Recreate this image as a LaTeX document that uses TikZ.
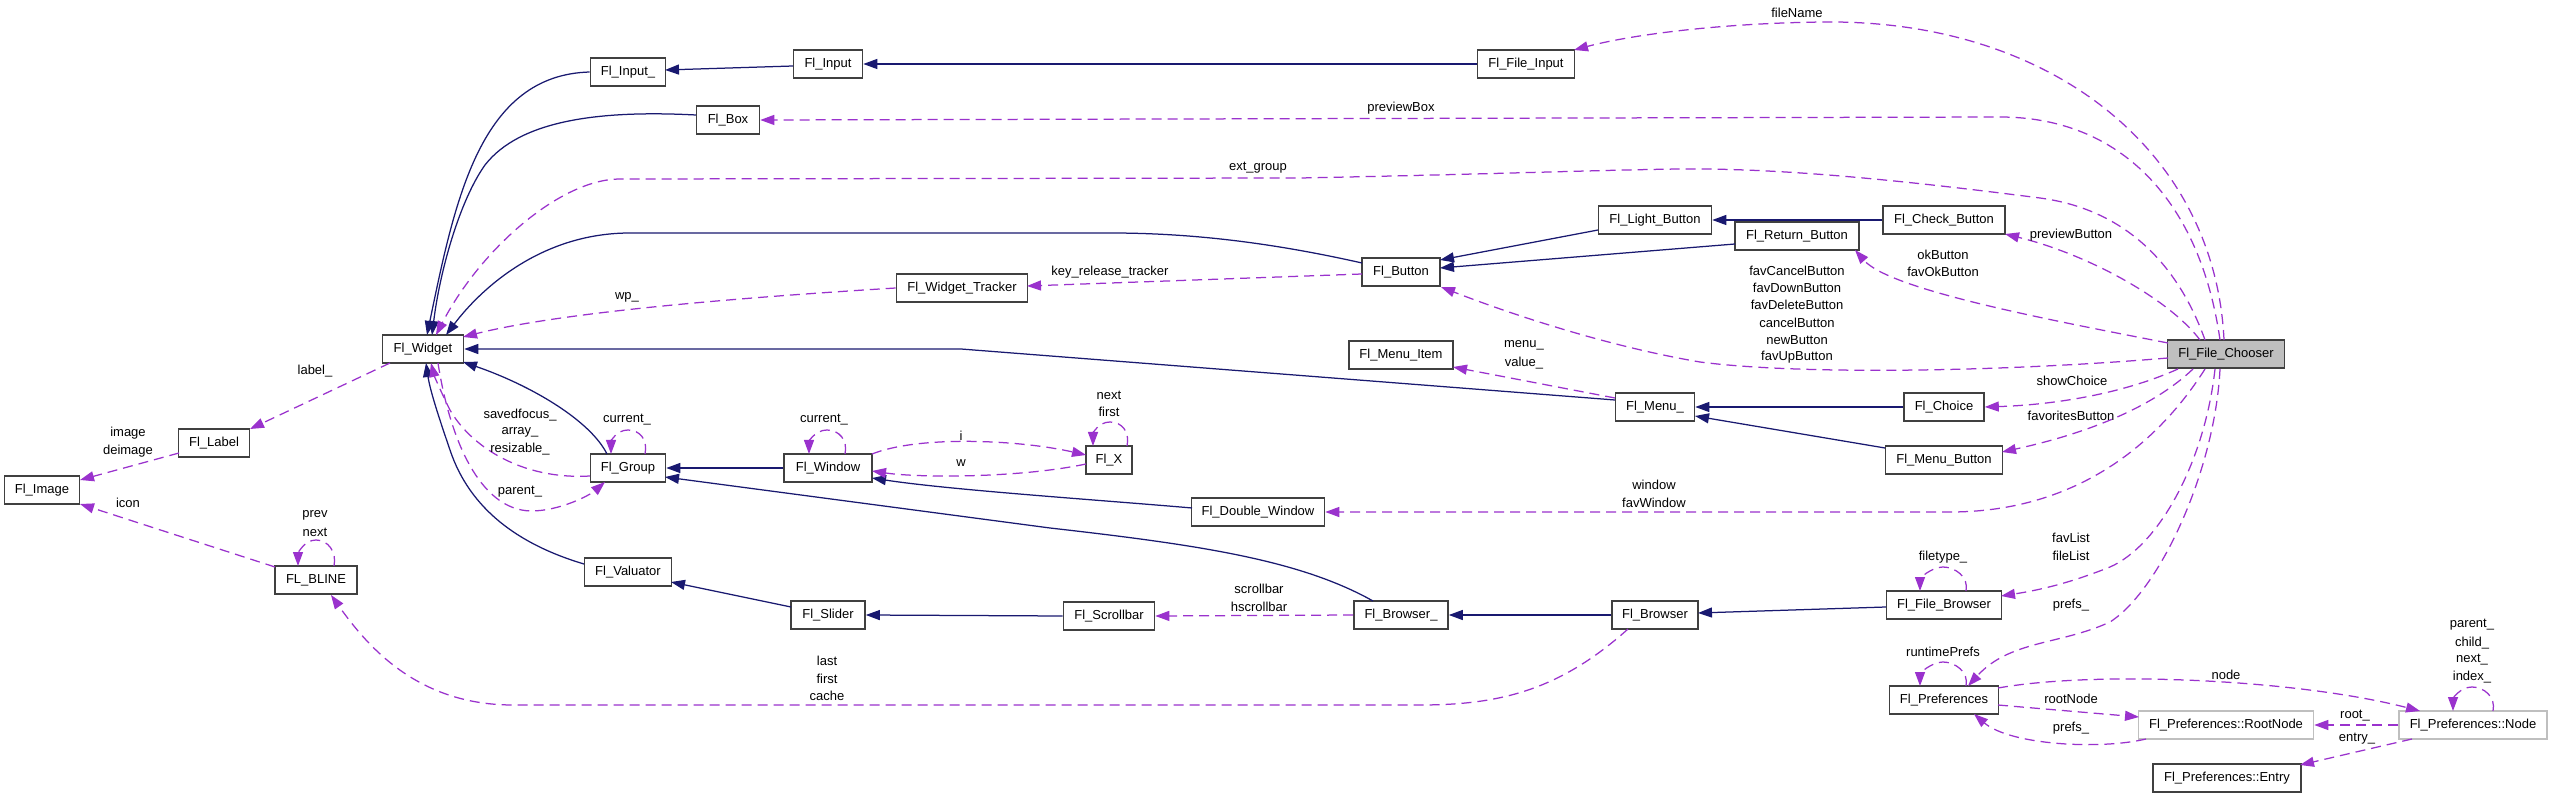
\documentclass[tikz,border=0pt]{standalone}
\usepackage{fontspec}
\setmainfont{Liberation Sans}
\usetikzlibrary{arrows.meta}
\definecolor{navy}{RGB}{25,25,112}
\definecolor{dpurple}{RGB}{154,50,205}
\definecolor{boxline}{RGB}{64,64,64}
\definecolor{lightline}{RGB}{191,191,191}
\definecolor{chooserfill}{RGB}{191,191,191}
\begin{document}
\begin{tikzpicture}[x=1pt,y=-1pt,
 cls/.style={draw=boxline,line width=1.6pt,fill=white,minimum height=28pt,inner xsep=2pt,inner ysep=0pt,font=\fontsize{13}{15}\selectfont},
 lightcls/.style={cls,draw=lightline},
 inh/.style={draw=navy,line width=1.25pt,-{Triangle[length=14pt,width=10pt]}},
 use/.style={draw=dpurple,line width=1.25pt,dash pattern=on 10pt off 6pt,-{Triangle[length=14pt,width=10pt]}},
 lbl/.style={font=\fontsize{13}{15}\selectfont,inner sep=0pt}]
\fill[white] (0,0) rectangle (2552,799);
\useasboundingbox (0,0) rectangle (2552,799);

% nodes
\node[cls,minimum width=75] (image) at (42,490) {Fl\_Image};
\node[cls,minimum width=71] (label) at (214,443) {Fl\_Label};
\node[cls,minimum width=82] (bline) at (316,580) {FL\_BLINE};
\node[cls,minimum width=81] (widget) at (423,349) {Fl\_Widget};
\node[cls,minimum width=75] (inputu) at (628,72) {Fl\_Input\_};
\node[cls,minimum width=63] (box) at (728,120) {Fl\_Box};
\node[cls,minimum width=75] (group) at (628,468) {Fl\_Group};
\node[cls,minimum width=87] (valuator) at (628,572) {Fl\_Valuator};
\node[cls,minimum width=69] (input) at (828,64) {Fl\_Input};
\node[cls,minimum width=88] (window) at (828,468) {Fl\_Window};
\node[cls,minimum width=74] (slider) at (828,615) {Fl\_Slider};
\node[cls,minimum width=131] (tracker) at (962,288) {Fl\_Widget\_Tracker};
\node[cls,minimum width=46] (flx) at (1109,460) {Fl\_X};
\node[cls,minimum width=91] (scrollbar) at (1109,616) {Fl\_Scrollbar};
\node[cls,minimum width=133] (dwindow) at (1258,512) {Fl\_Double\_Window};
\node[cls,minimum width=78] (button) at (1401,272) {Fl\_Button};
\node[cls,minimum width=104] (menuitem) at (1401,355) {Fl\_Menu\_Item};
\node[cls,minimum width=94] (browseru) at (1401,615) {Fl\_Browser\_};
\node[cls,minimum width=97] (fileinput) at (1526,64) {Fl\_File\_Input};
\node[cls,minimum width=113] (light) at (1655,220) {Fl\_Light\_Button};
\node[cls,minimum width=79] (menuu) at (1655,407) {Fl\_Menu\_};
\node[cls,minimum width=86] (browser) at (1655,615) {Fl\_Browser};
\node[cls,minimum width=124] (retbtn) at (1797,236) {Fl\_Return\_Button};
\node[cls,minimum width=122] (check) at (1944,220) {Fl\_Check\_Button};
\node[cls,minimum width=80] (choice) at (1944,407) {Fl\_Choice};
\node[cls,minimum width=117] (menubutton) at (1944,460) {Fl\_Menu\_Button};
\node[cls,minimum width=115] (filebrowser) at (1944,605) {Fl\_File\_Browser};
\node[cls,minimum width=109] (prefs) at (1944,700) {Fl\_Preferences};
\node[cls,minimum width=117,fill=chooserfill] (chooser) at (2226,354) {Fl\_File\_Chooser};
\node[lightcls,minimum width=175] (rootnode) at (2226,725) {Fl\_Preferences::RootNode};
\node[cls,minimum width=148] (entry) at (2227,778) {Fl\_Preferences::Entry};
\node[lightcls,minimum width=148] (pnode) at (2473,725) {Fl\_Preferences::Node};

% inheritance
\draw[inh] (inputu.west) .. controls (480,75) and (455,200) .. ([shift={(4,-14)}]widget.center);
\draw[inh] ([shift={(-32,-5)}]box.center) .. controls (600,110) and (520,120) .. (485,165) .. controls (460,200) and (440,270) .. ([shift={(9,-14)}]widget.center);
\draw[inh] ([shift={(-39,-9)}]button.center) .. controls (1260,240) and (1180,233) .. (1110,233) -- (630,233) .. controls (540,233) and (480,290) .. ([shift={(23,-14)}]widget.center);
\draw[inh] ([shift={(-40,-7)}]menuu.center) -- (961,349) -- (widget.east);
\draw[inh] ([shift={(-21,-14)}]group.center) .. controls (590,420) and (530,385) .. ([shift={(40,13)}]widget.center);
\draw[inh] ([shift={(-44,-8)}]valuator.center) .. controls (520,545) and (470,510) .. (450,450) .. controls (438,415) and (430,390) .. ([shift={(3,14)}]widget.center);
\draw[inh] ([shift={(-35,2)}]input.center) -- ([shift={(37,-2)}]inputu.center);
\draw[inh] (fileinput.west) -- (input.east);
\draw[inh] ([shift={(-57,10)}]light.center) -- ([shift={(39,-12)}]button.center);
\draw[inh] ([shift={(-62,8)}]retbtn.center) -- ([shift={(39,-4)}]button.center);
\draw[inh] (check.west) -- (light.east);
\draw[inh] (window.west) -- (group.east);
\draw[inh] ([shift={(-66,-4)}]dwindow.center) .. controls (1100,500) and (950,490) .. ([shift={(44,10)}]window.center);
\draw[inh] ([shift={(-28,-14)}]browseru.center) .. controls (1300,560) and (1200,545) .. (1050,528) -- ([shift={(37,9)}]group.center);
\draw[inh] ([shift={(-37,-8)}]slider.center) -- ([shift={(43,10)}]valuator.center);
\draw[inh] (scrollbar.west) -- (slider.east);
\draw[inh] (browser.west) -- (browseru.east);
\draw[inh] (choice.west) -- (menuu.east);
\draw[inh] ([shift={(-59,-12)}]menubutton.center) -- ([shift={(40,9)}]menuu.center);
\draw[inh] ([shift={(-58,2)}]filebrowser.center) -- ([shift={(43,-2)}]browser.center);

% usage
\draw[use] ([shift={(-2,-14)}]chooser.center) .. controls (2215,150) and (2050,20) .. (1825,22) .. controls (1720,23) and (1630,35) .. ([shift={(48,-14)}]fileinput.center);
\node[lbl] (l01) at (1797,13) {fileName};
\draw[use] ([shift={(-6,-14)}]chooser.center) .. controls (2200,200) and (2120,117) .. (2000,117) -- (box.east);
\node[lbl] (l02) at (1401,108) {previewBox};
\draw[use] ([shift={(-21,-14)}]chooser.center) .. controls (2180,270) and (2130,210) .. (2040,198) .. controls (1900,180) and (1780,168) .. (1680,169) .. controls (1600,170) and (1500,174) .. (1300,178) -- (620,179) .. controls (560,179) and (480,250) .. ([shift={(13,-14)}]widget.center);
\node[lbl] (l03) at (1258,168) {ext\_group};
\draw[use] ([shift={(-26,-14)}]chooser.center) .. controls (2170,300) and (2090,255) .. ([shift={(61,14)}]check.center);
\node[lbl] (l04) at (2071,235) {previewButton};
\draw[use] ([shift={(-58,-11)}]chooser.center) .. controls (2050,320) and (1890,290) .. ([shift={(58,14)}]retbtn.center);
\node[lbl] (l05) at (1943,255) {okButton};
\node[lbl] (l06) at (1943,272) {favOkButton};
\draw[use] ([shift={(-58,4)}]chooser.center) .. controls (2000,372) and (1800,375) .. (1700,362) .. controls (1600,345) and (1500,310) .. ([shift={(40,15)}]button.center);
\node[lbl] (l07) at (1797,271) {favCancelButton};
\node[lbl] (l08) at (1797,288) {favDownButton};
\node[lbl] (l09) at (1797,305) {favDeleteButton};
\node[lbl] (l10) at (1797,323) {cancelButton};
\node[lbl] (l11) at (1797,340) {newButton};
\node[lbl] (l12) at (1797,357) {favUpButton};
\draw[use] ([shift={(-48,15)}]chooser.center) .. controls (2120,395) and (2050,405) .. (choice.east);
\node[lbl] (l13) at (2072,381) {showChoice};
\draw[use] ([shift={(-33,15)}]chooser.center) .. controls (2150,410) and (2080,435) .. ([shift={(58,-8)}]menubutton.center);
\node[lbl] (l14) at (2071,416) {favoritesButton};
\draw[use] ([shift={(-21,15)}]chooser.center) .. controls (2160,440) and (2080,512) .. (1950,512) -- (dwindow.east);
\node[lbl] (l15) at (1654,485) {window};
\node[lbl] (l16) at (1654,503) {favWindow};
\draw[use] ([shift={(-11,15)}]chooser.center) .. controls (2205,460) and (2160,545) .. (2110,567) .. controls (2070,583) and (2040,590) .. ([shift={(57,-9)}]filebrowser.center);
\node[lbl] (l17) at (2071,538) {favList};
\node[lbl] (l18) at (2071,556) {fileList};
\draw[use] ([shift={(-6,15)}]chooser.center) .. controls (2215,470) and (2160,590) .. (2110,622) .. controls (2060,645) and (2010,640) .. ([shift={(24,-14)}]prefs.center);
\node[lbl] (l19) at (2071,605) {prefs\_};
\draw[use] (tracker.west) .. controls (700,300) and (550,315) .. ([shift={(40,-12)}]widget.center);
\node[lbl] (l20) at (627,297) {wp\_};
\draw[use] ([shift={(-39,2)}]button.center) -- ([shift={(65,-2)}]tracker.center);
\node[lbl] (l21) at (1110,272) {key\_release\_tracker};
\draw[use] ([shift={(-40,-9)}]menuu.center) -- ([shift={(52,12)}]menuitem.center);
\node[lbl] (l22) at (1524,345) {menu\_};
\node[lbl] (l23) at (1524,363) {value\_};
\draw[use] ([shift={(-33,14)}]widget.center) -- ([shift={(36,-14)}]label.center);
\node[lbl] (l24) at (315,371) {label\_};
\draw[use] ([shift={(-35,10)}]label.center) -- ([shift={(38,-10)}]image.center);
\node[lbl] (l25) at (128,433) {image};
\node[lbl] (l26) at (128,451) {deimage};
\draw[use] ([shift={(-41,-13)}]bline.center) -- ([shift={(38,14)}]image.center);
\node[lbl] (l27) at (128,503) {icon};
\draw[use] ([shift={(18,-14)}]bline.center) .. controls +(3,-14) and +(12,0) .. ++(-18,-26) .. controls +(-12,0) and +(0,-12) .. ++(-18,26);
\node[lbl] (l28) at (315,515) {prev};
\node[lbl] (l29) at (315,532) {next};
\draw[use] ([shift={(17,-14)}]group.center) .. controls +(3,-14) and +(12,0) .. ++(-17,-24) .. controls +(-12,0) and +(0,-12) .. ++(-17,24);
\node[lbl] (l30) at (627,420) {current\_};
\draw[use] ([shift={(-38,8)}]group.center) .. controls (520,480) and (470,445) .. (450,410) .. controls (440,390) and (434,375) .. ([shift={(8,14)}]widget.center);
\node[lbl] (l31) at (520,415) {savedfocus\_};
\node[lbl] (l32) at (520,432) {array\_};
\node[lbl] (l33) at (520,449) {resizable\_};
\draw[use] ([shift={(15,14)}]widget.center) .. controls (450,440) and (480,510) .. (531,511) .. controls (560,511) and (590,495) .. ([shift={(-23,14)}]group.center);
\node[lbl] (l34) at (520,492) {parent\_};
\draw[use] ([shift={(17,-14)}]window.center) .. controls +(3,-14) and +(12,0) .. ++(-18,-24) .. controls +(-12,0) and +(0,-12) .. ++(-18,24);
\node[lbl] (l35) at (824,420) {current\_};
\draw[use] ([shift={(44,-14)}]window.center) .. controls (920,435) and (1020,440) .. ([shift={(-23,-5)}]flx.center);
\node[lbl] (l36) at (961,436) {i};
\draw[use] ([shift={(-23,4)}]flx.center) .. controls (1020,478) and (920,478) .. ([shift={(44,3)}]window.center);
\node[lbl] (l37) at (961,463) {w};
\draw[use] ([shift={(18,-14)}]flx.center) .. controls +(3,-14) and +(12,0) .. ++(-17,-24) .. controls +(-12,0) and +(0,-12) .. ++(-17,24);
\node[lbl] (l38) at (1109,395) {next};
\node[lbl] (l39) at (1109,412) {first};
\draw[use] (browseru.west) -- (scrollbar.east);
\node[lbl] (l40) at (1259,589) {scrollbar};
\node[lbl] (l41) at (1259,607) {hscrollbar};
\draw[use] ([shift={(-27,14)}]browser.center) .. controls (1560,690) and (1500,705) .. (1420,705) -- (513,705) .. controls (420,705) and (370,650) .. ([shift={(15,15)}]bline.center);
\node[lbl] (l42) at (827,661) {last};
\node[lbl] (l43) at (827,679) {first};
\node[lbl] (l44) at (827,696) {cache};
\draw[use] ([shift={(22,-14)}]filebrowser.center) .. controls +(3,-14) and +(12,0) .. ++(-23,-24) .. controls +(-12,0) and +(0,-12) .. ++(-23,24);
\node[lbl] (l45) at (1943,557) {filetype\_};
\draw[use] ([shift={(22,-14)}]prefs.center) .. controls +(3,-14) and +(12,0) .. ++(-23,-24) .. controls +(-12,0) and +(0,-12) .. ++(-23,24);
\node[lbl] (l46) at (1943,652) {runtimePrefs};
\draw[use] ([shift={(54,-12)}]prefs.center) .. controls (2100,670) and (2300,680) .. ([shift={(-53,-14)}]pnode.center);
\node[lbl] (l47) at (2226,675) {node};
\draw[use] ([shift={(54,5)}]prefs.center) -- ([shift={(-87,-8)}]rootnode.center);
\node[lbl] (l48) at (2071,699) {rootNode};
\draw[use] ([shift={(-80,14)}]rootnode.center) .. controls (2100,750) and (2010,745) .. ([shift={(30,14)}]prefs.center);
\node[lbl] (l49) at (2071,728) {prefs\_};
\draw[use] (pnode.west) -- (rootnode.east);
\node[lbl] (l50) at (2355,716) {root\_};
\draw[use] ([shift={(-61,14)}]pnode.center) -- ([shift={(73,-13)}]entry.center);
\node[lbl] (l51) at (2357,739) {entry\_};
\draw[use] ([shift={(20,-14)}]pnode.center) .. controls +(3,-14) and +(12,0) .. ++(-21,-24) .. controls +(-12,0) and +(0,-12) .. ++(-19,24);
\node[lbl] (l52) at (2472,625) {parent\_};
\node[lbl] (l53) at (2472,643) {child\_};
\node[lbl] (l54) at (2472,660) {next\_};
\node[lbl] (l55) at (2472,677) {index\_};
\end{tikzpicture}
\end{document}
